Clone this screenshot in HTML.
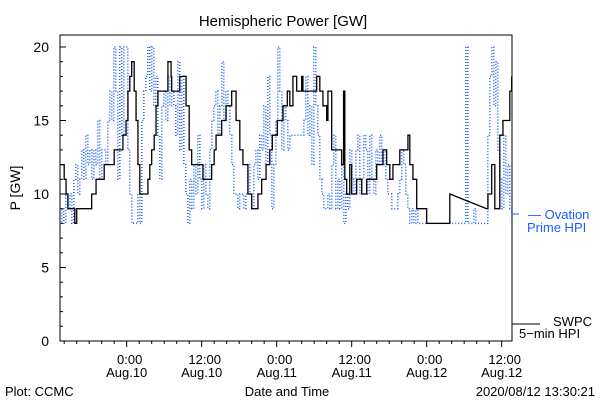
<!DOCTYPE html>
<html><head><meta charset="utf-8"><style>
body{margin:0;background:#fff;}
svg{display:block;font-family:"Liberation Sans",sans-serif;}
</style></head><body>
<svg id="chart" width="600" height="400" viewBox="0 0 600 400">
<defs><clipPath id="pc"><rect x="60" y="35" width="452" height="306"/></clipPath></defs>
<text x="283" y="26" text-anchor="middle" font-size="15">Hemispheric Power [GW]</text>
<text transform="translate(20,188) rotate(-90)" text-anchor="middle" font-size="14">P [GW]</text>
<text x="287" y="396" text-anchor="middle" font-size="13">Date and Time</text>
<text x="5" y="396" font-size="13">Plot: CCMC</text>
<text x="595" y="396" text-anchor="end" font-size="13">2020/08/12 13:30:21</text>
<g id="axes"></g>
<g id="series" clip-path="url(#pc)"></g>
<line x1="512" y1="214" x2="519" y2="214" stroke="#1a5cff" stroke-width="1"/>
<text x="528" y="219" font-size="13" fill="#1a5cff">— Ovation</text>
<text x="527" y="232" font-size="13" fill="#1a5cff">Prime HPI</text>
<line x1="512" y1="324" x2="540" y2="324" stroke="#000" stroke-width="1"/>
<text x="553" y="326" font-size="13">SWPC</text>
<text x="519" y="338" font-size="13">5−min HPI</text>
</svg>
<script>
// hours relative to Aug.10 00:00
const blackTimes=[-10.7,-10.0,-9.7,-9.4,-9.1,-8.3,-8.0,-5.9,-5.6,-4.9,-3.6,-2.7,-2.0,-0.6,-0.1,0.2,0.5,0.8,1.2,1.5,1.8,2.1,3.1,3.4,3.7,4.0,4.4,4.7,5.0,6.6,7.1,7.2,8.5,9.2,9.5,10.0,10.4,11.7,12.2,13.3,13.6,14.0,14.3,14.6,15.2,15.9,16.8,17.5,18.1,18.6,19.4,20.0,21.0,21.6,22.3,22.9,23.3,24.1,25.0,25.7,26.1,26.6,27.2,28.0,28.2,30.4,30.9,31.4,32.0,32.2,32.8,34.4,34.7,34.9,35.2,35.7,36.0,36.8,37.6,38.4,40.0,41.0,41.6,42.1,42.6,43.7,45.0,45.3,45.8,46.4,48.0,51.4,51.7,57.6,57.8,58.4,58.9,59.7,60.2,61.3,61.6];
const blackValues=[12,11,10,9,9,8,9,9,10,11,
12,12,13,14,15,17,18,19,17,15,
12,10,10,11,12,13,14,16,17,19,
18,17,18,18,16,13,12,12,11,11,
12,13,14,14,15,16,17,15,13,12,
10,9,10,11,12,13,14,15,16,17,
16,18,17,18,17,18,17,16,15,17,
13,12,17,11,10,12,10,11,10,11,
12,13,12,11,12,13,14,12,11,9,
8,8,10,9,10,12,9,14,15,17,18];
const blueStart=-10.7, blueStep=0.32;
const blueValues=[8,9,8,10,9,10,8,11,12,10,11,13,11,14,12,13,11,13,12,15,
11,13,13,12,15,17,15,20,17,11,20,14,20,20,13,10,8,8,8,10,
8,15,17,18,20,17,20,16,18,14,11,16,17,15,18,16,17,16,14,19,
13,18,12,10,8,11,9,12,10,14,11,9,12,10,9,13,15,16,17,14,
16,19,15,17,16,14,12,10,10,9,10,10,9,10,12,10,9,12,13,11,
14,13,16,12,18,14,9,12,15,20,17,13,16,15,13,14,14,14,14,14,
14,14,15,18,14,16,12,20,16,14,11,10,9,9,10,9,12,14,9,11,
9,12,8,10,9,13,11,10,13,14,10,11,14,13,10,14,11,10,13,12,
14,12,13,11,10,10,9,9,9,10,11,13,12,10,9,8,9,8,9,8,
8,8,8,8,8,8,8,8,8,8,8,8,8,8,8,8,8,8,8,8,8,8,8,
20,8,8,8,9,8,8,8,8,8,8,14,18,20,16,19,13,11,9,14,10,12,9,8];
const yTicks=[0,5,10,15,20];
const xTickHours=[0,12,24,36,48,60];
const xTickLabels=[["0:00","Aug.10"],["12:00","Aug.10"],["0:00","Aug.11"],["12:00","Aug.11"],["0:00","Aug.12"],["12:00","Aug.12"]];

const NS="http://www.w3.org/2000/svg";
const X0=60,X1=512,Y0=341,Y1=35;
const hMin=-10.67,hMax=61.65,vMax=20.0;
const xs=h=>X0+(h-hMin)/(hMax-hMin)*(X1-X0);
const ys=v=>Y0-v/vMax*(Y0-47);
function mk(tag,attrs,parent){const e=document.createElementNS(NS,tag);for(const k in attrs)e.setAttribute(k,attrs[k]);parent.appendChild(e);return e;}
const axes=document.getElementById('axes'),series=document.getElementById('series');

const frame=mk('rect',{x:X0,y:Y1,width:X1-X0,height:Y0-Y1,fill:'none',stroke:'#000','stroke-width':1},axes);


yTicks.forEach(v=>{
  const t=mk('line',{x1:X0,y1:ys(v),x2:X0+6,y2:ys(v),stroke:'#000'},axes);
  
  
  const l=mk('text',{x:X0-11,y:ys(v)+5,'text-anchor':'end','font-size':14},axes);
  l.textContent=v;
  
  
  if(v<20){for(let i=1;i<5;i++){const m=mk('line',{x1:X0,y1:ys(v+i),x2:X0+3,y2:ys(v+i),stroke:'#000'},axes);
  
  }}
});
for(let h=-10;h<=60;h+=2){
  const major=xTickHours.indexOf(h)>=0;
  const t=mk('line',{x1:xs(h),y1:Y0,x2:xs(h),y2:Y0+(major?6:3),stroke:'#000'},axes);
  
  
}
xTickHours.forEach((h,i)=>{
  const l1=mk('text',{x:xs(h)+3,y:364,'text-anchor':'middle','font-size':13},axes);
  l1.textContent=xTickLabels[i][0];
  
  
  const l2=mk('text',{x:xs(h),y:377,'text-anchor':'middle','font-size':13},axes);
  l2.textContent=xTickLabels[i][1];
  
  
});

// blue dotted step line
let d='';
blueValues.forEach((v,i)=>{const x=xs(blueStart+i*blueStep),y=ys(v);
  if(i===0)d+='M'+x+' '+y;else d+=' H'+x+' V'+y;});
const bl=mk('path',{d:d,fill:'none',stroke:'#1a5cff','stroke-width':1.5,'stroke-dasharray':'1 2'},series);



// black step line
let d2='';
blackTimes.forEach((t,i)=>{const x=xs(t),y=ys(blackValues[i]);
  if(i===0)d2+='M'+x+' '+y;
  else if(t-blackTimes[i-1]>4)d2+=' L'+x+' '+y;
  else d2+=' H'+x+' V'+y;});
const kl=mk('path',{d:d2,fill:'none',stroke:'#000','stroke-width':1.3},series);


</script>
</body></html>
